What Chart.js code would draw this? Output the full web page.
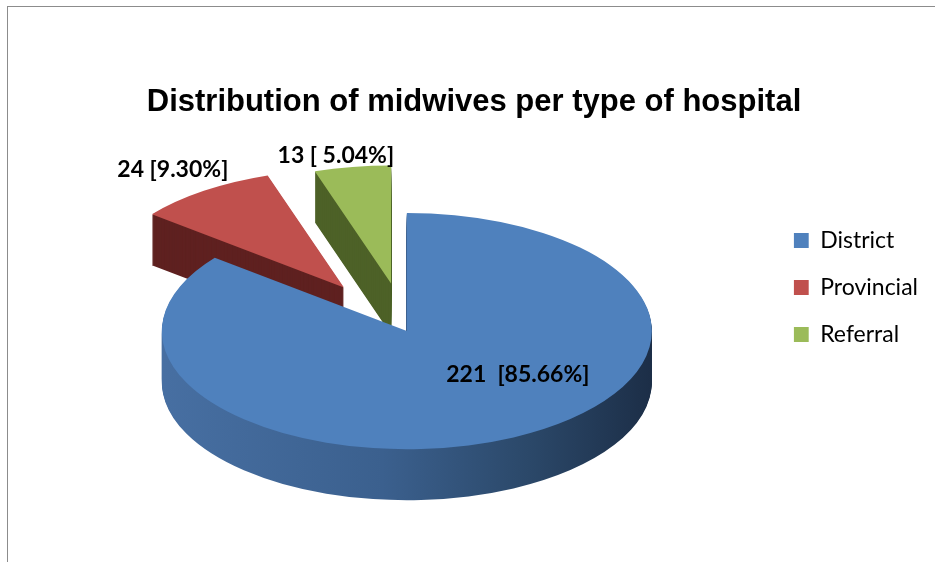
<!DOCTYPE html>
<html>
<head>
<meta charset="utf-8">
<script src="https://cdn.jsdelivr.net/npm/chart.js@4.4.1/dist/chart.umd.min.js"></script>
<style>
  html, body { margin: 0; padding: 0; background: #fff; overflow: hidden; }
  #box {
    position: absolute; left: 7px; top: 6px;
    width: 934px; height: 556px;
    border-left: 1px solid #8c8c8c; border-top: 1px solid #8c8c8c;
  }
</style>
</head>
<body>
<div id="box"><canvas id="myChart"></canvas></div>
<script>
// data
const hospitalTypes = ['District', 'Provincial', 'Referral'];
const midwives = [221, 24, 13];
const sliceLabels = ['221  [85.66%]', '24 [9.30%]', '13 [ 5.04%]'];

// look
const topColors = ['#4F81BD', '#C0504D', '#9BBB59'];
const explode = [0, 110, 100];   // pull-out distance of each slice
const squash = 0.482;
const depth = 51;
// label centres, relative to the pie centre (screen px)
const labelShift = [[111, 43], [-234, -162], [-71, -176]];

const pie3d = {
  id: 'pie3d',
  beforeDatasetsDraw(chart) {
    const ctx = chart.ctx;
    const arcs = chart.getDatasetMeta(0).data;
    if (!arcs.length) return false;
    const cx = arcs[0].x, cy = arcs[0].y, r = arcs[0].outerRadius;

    const blueSide = ctx.createLinearGradient(cx - r, 0, cx + r, 0);
    blueSide.addColorStop(0, '#476fa2');
    blueSide.addColorStop(0.45, '#3b608e');
    blueSide.addColorStop(0.75, '#2b4869');
    blueSide.addColorStop(1, '#1c2e47');
    const sides = [blueSide, '#5f2120', '#4d6127'];

    const drawSlice = (arc, i, d, color) => {
      ctx.save();
      ctx.translate(0, cy + d);
      ctx.scale(1, squash);
      ctx.translate(0, -cy);
      const mid = (arc.startAngle + arc.endAngle) / 2;
      ctx.translate(Math.cos(mid) * explode[i], Math.sin(mid) * explode[i]);
      if (color) {
        const o = arc.options;
        arc.options = Object.assign({}, o, {backgroundColor: color});
        arc.draw(ctx);
        arc.options = o;
      } else {
        arc.draw(ctx);
      }
      ctx.restore();
    };

    // side walls: stack of darker copies
    for (let d = depth; d >= 1; d--) {
      arcs.forEach((arc, i) => drawSlice(arc, i, d, sides[i]));
    }
    // top faces
    arcs.forEach((arc, i) => drawSlice(arc, i, 0, null));
    return false;
  },
  afterDraw(chart) {
    const ctx = chart.ctx;
    const arcs = chart.getDatasetMeta(0).data;
    if (!arcs.length) return;
    ctx.save();
    ctx.font = 'bold 23px Lato';
    ctx.fillStyle = '#000';
    ctx.textAlign = 'center';
    ctx.textBaseline = 'middle';
    sliceLabels.forEach((t, i) => {
      ctx.fillText(t, arcs[0].x + labelShift[i][0], arcs[0].y + labelShift[i][1]);
    });
    ctx.restore();
  }
};

new Chart(document.getElementById('myChart'), {
  type: 'pie',
  data: {
    labels: hospitalTypes,
    datasets: [{
      data: midwives,
      backgroundColor: topColors,
      borderWidth: 0
    }]
  },
  options: {
    responsive: true,
    maintainAspectRatio: false,
    animation: false,
    radius: 245,
    layout: { padding: { left: 12, right: 14, top: 0, bottom: 25 } },
    plugins: {
      title: {
        display: true,
        text: 'Distribution of midwives per type of hospital',
        color: '#000',
        font: { family: 'Liberation Sans', size: 31, weight: 'bold' },
        padding: { top: 77, bottom: 3 }
      },
      legend: {
        position: 'right',
        align: 'start',
        title: { display: true, text: ' ', font: { size: 10 }, padding: { top: 210, bottom: 0 } },
        labels: {
          color: '#000',
          font: { family: 'Lato', size: 23, lineHeight: 47 / 23 },
          boxWidth: 15,
          boxHeight: 15,
          padding: 0,
          // one-line arrays so the row height follows the font line height
          generateLabels(chart) {
            const items = Chart.overrides.doughnut.plugins.legend.labels.generateLabels(chart);
            return items.map(it => Object.assign(it, {text: [it.text]}));
          }
        }
      },
      tooltip: { enabled: false }
    }
  },
  plugins: [pie3d]
});
</script>
</body>
</html>
